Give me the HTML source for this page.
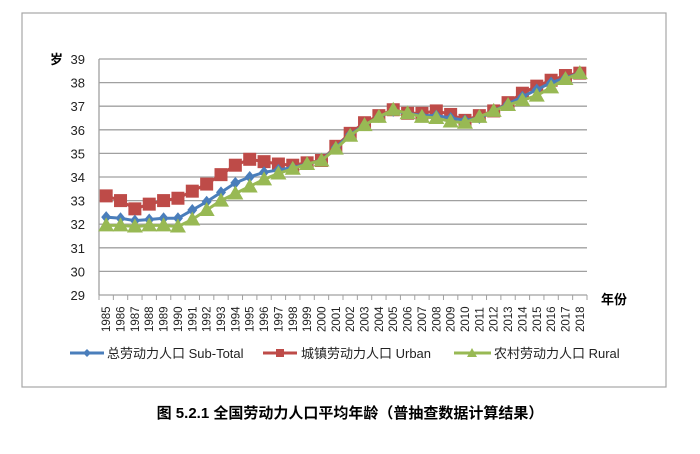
<!DOCTYPE html>
<html><head><meta charset="utf-8"><style>
body{margin:0;background:#fff;}
svg text{font-family:"Liberation Sans","Noto Sans CJK SC",sans-serif;}
</style></head><body>
<svg width="700" height="449">
<rect x="22" y="13" width="644" height="374" fill="none" stroke="#a6a6a6" stroke-width="1.2"/>
<g id="grid"></g><g id="axes"></g><g id="series"></g>
<text x="50" y="64" font-size="13" font-weight="bold">岁</text>
<text x="601" y="304" font-size="13" font-weight="bold">年份</text>
<g>
<g><line x1="70" y1="353" x2="104" y2="353" stroke="#4a7ebb" stroke-width="3"/><path d="M87 349 L91 353 L87 357 L83 353Z" fill="#4a7ebb"/><text x="107" y="358" font-size="13" fill="#222">总劳动力人口 Sub-Total</text></g>
<g><line x1="263" y1="353" x2="297" y2="353" stroke="#be4b48" stroke-width="3"/><rect x="276" y="349" width="8" height="8" fill="#be4b48"/><text x="301" y="358" font-size="13" fill="#222">城镇劳动力人口 Urban</text></g>
<g><line x1="454" y1="353" x2="491" y2="353" stroke="#98b954" stroke-width="3"/><path d="M472 348 L477 357 L467 357Z" fill="#98b954"/><text x="494" y="358" font-size="13" fill="#222">农村劳动力人口 Rural</text></g>
</g>
<text x="350" y="418" text-anchor="middle" font-size="15" font-weight="bold" font-family="Liberation Serif,Noto Serif CJK SC,serif">图 5.2.1 全国劳动力人口平均年龄（普抽查数据计算结果）</text>
</svg>
<script>
const years=[1985,1986,1987,1988,1989,1990,1991,1992,1993,1994,1995,1996,1997,1998,1999,2000,2001,2002,2003,2004,2005,2006,2007,2008,2009,2010,2011,2012,2013,2014,2015,2016,2017,2018];
const subTotal=[32.3,32.25,32.15,32.2,32.25,32.25,32.6,32.95,33.35,33.75,34.0,34.2,34.3,34.4,34.55,34.7,35.25,35.8,36.2,36.55,36.8,36.7,36.6,36.6,36.5,36.4,36.5,36.8,37.1,37.4,37.7,38.0,38.2,38.4];
const urban=[33.2,33.0,32.65,32.85,33.0,33.1,33.4,33.7,34.1,34.5,34.75,34.65,34.55,34.5,34.6,34.7,35.3,35.85,36.3,36.6,36.85,36.7,36.7,36.8,36.65,36.4,36.6,36.8,37.15,37.55,37.85,38.1,38.3,38.4];
const rural=[31.95,31.95,31.9,31.95,31.95,31.9,32.2,32.6,33.0,33.3,33.6,33.9,34.15,34.35,34.55,34.7,35.2,35.75,36.2,36.55,36.85,36.7,36.55,36.5,36.35,36.3,36.55,36.8,37.05,37.25,37.45,37.8,38.15,38.4];
const yTicks=[29,30,31,32,33,34,35,36,37,38,39];
const NS="http://www.w3.org/2000/svg";
const L=99,R=587,T=59,B=295,yMin=29,yMax=39;
const bw=(R-L)/years.length;
function xs(i){return L+bw*(i+0.5);}
function ys(v){return B-(v-yMin)/(yMax-yMin)*(B-T);}
function mk(tag,attrs,parent){const e=document.createElementNS(NS,tag);for(const k in attrs)e.setAttribute(k,attrs[k]);parent.appendChild(e);return e;}
const grid=document.getElementById('grid'),axes=document.getElementById('axes'),ser=document.getElementById('series');
yTicks.forEach(v=>{
 const ln=mk('line',{x1:L,x2:R,y1:ys(v),y2:ys(v),stroke:'#a0a0a0','stroke-width':1.3},grid);
 
 
 const t=mk('text',{x:L-14,y:ys(v)+5,'text-anchor':'end','font-size':13,fill:'#222'},axes);t.textContent=v;
 
 
});
const ya=mk('line',{x1:L,x2:L,y1:T,y2:B,stroke:'#a0a0a0','stroke-width':1.3},axes);


for(let i=0;i<=years.length;i++){const tk=mk('line',{x1:L+bw*i,x2:L+bw*i,y1:B,y2:B+5,stroke:'#a0a0a0'},axes);
 
 }
years.forEach((y,i)=>{const t=mk('text',{transform:`translate(${xs(i)+4},332) rotate(-90)`,'font-size':11.5,fill:'#222'},axes);t.textContent=y;
 
 });
function series(vals,color,shape,name){
 const g=mk('g',{},ser);
 
 
 mk('polyline',{points:vals.map((v,i)=>xs(i)+','+ys(v)).join(' '),fill:'none',stroke:color,'stroke-width':3},g);
 vals.forEach((v,i)=>{const x=xs(i),y=ys(v);let m;
  if(shape==='sq')m=mk('rect',{x:x-6.5,y:y-6.5,width:13,height:13,fill:color},g);
  else if(shape==='tri')m=mk('path',{d:`M${x} ${y-8}L${x+8} ${y+6}L${x-8} ${y+6}Z`,fill:color},g);
  else m=mk('path',{d:`M${x} ${y-6}L${x+5} ${y}L${x} ${y+6}L${x-5} ${y}Z`,fill:color},g);
  
  
 });
}
series(urban,'#be4b48','sq','urban');
series(subTotal,'#4a7ebb','dia','subtotal');
series(rural,'#98b954','tri','rural');
</script>
</body></html>
